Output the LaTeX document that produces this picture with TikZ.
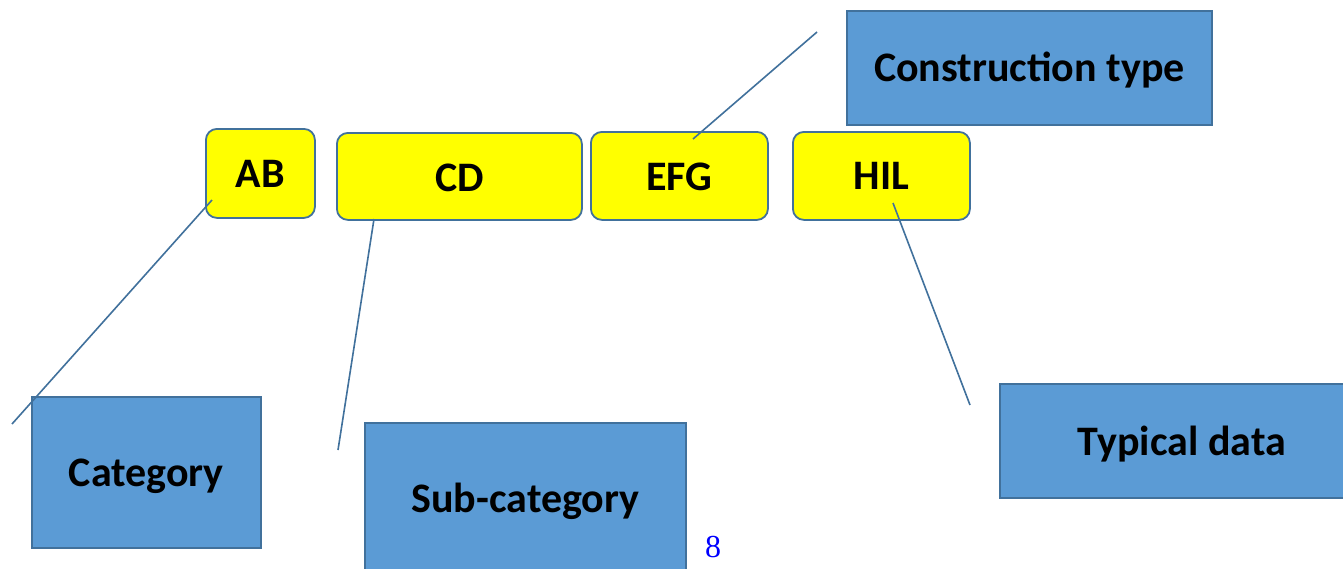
\documentclass[tikz,border=0pt]{standalone}
\usepackage{fontspec}
\setmainfont{Carlito}
\newfontfamily\serifnum{Liberation Serif}
\definecolor{labelblue}{HTML}{5B9BD5}
\definecolor{edgeblue}{HTML}{41719C}
\definecolor{keyyellow}{HTML}{FFFF00}
% shift text vertically without changing its reported size
\newcommand\nudge[2]{\raisebox{#1}[\height][\depth]{#2}}
\begin{document}
\begin{tikzpicture}[x=1pt,y=-1pt,
  keybox/.style={draw=edgeblue,line width=1.8pt,fill=keyyellow,rounded corners=11pt,
    anchor=north west,inner sep=0pt,font=\fontsize{42}{48}\selectfont\bfseries},
  labelbox/.style={draw=edgeblue,line width=1.8pt,fill=labelblue,
    anchor=north west,inner sep=0pt,font=\fontsize{42}{48}\selectfont\bfseries},
  leader/.style={draw=edgeblue,line width=1.6pt}]
  \clip (0,0) rectangle (1343,568);
  \fill[white] (0,0) rectangle (1343,568);

  % code fields
  \node[keybox,minimum width=109pt,minimum height=89pt] (AB) at (205,128) {AB};
  \node[keybox,minimum width=245pt,minimum height=87pt] (CD) at (336,132) {\nudge{-1pt}{CD}};
  \node[keybox,minimum width=177pt,minimum height=88pt] (EFG) at (590,131) {\nudge{-1pt}{EFG}};
  \node[keybox,minimum width=177pt,minimum height=88pt] (HIL) at (792,131) {HIL};

  % descriptions
  \node[labelbox,minimum width=365pt,minimum height=114pt] (ctype) at (846,10) {\nudge{-2pt}{Construction type}};
  \node[labelbox,minimum width=229pt,minimum height=151pt] (cat) at (31,396) {\nudge{-4pt}{Category}};
  \node[labelbox,minimum width=321pt,minimum height=160pt] (subcat) at (364,422) {\nudge{2pt}{Sub-category}};
  \node[labelbox,minimum width=364pt,minimum height=114pt] (typ) at (999,383) {\nudge{-3pt}{Typical data}};

  % page number
  \node[text=blue,font=\serifnum\fontsize{32}{36}\selectfont,inner sep=0pt] (page) at (713,547) {8};

  % leader lines
  \coordinate (ab-in) at (212,200);
  \coordinate (ab-out) at (12,424);
  \coordinate (cd-in) at (374,219);
  \coordinate (cd-out) at (338,450);
  \coordinate (efg-in) at (693,139);
  \coordinate (efg-out) at (817,32);
  \coordinate (hil-in) at (893,203);
  \coordinate (hil-out) at (970,405);
  \draw[leader] (ab-in) -- (ab-out);
  \draw[leader] (cd-in) -- (cd-out);
  \draw[leader] (efg-in) -- (efg-out);
  \draw[leader] (hil-in) -- (hil-out);
\end{tikzpicture}
\end{document}
